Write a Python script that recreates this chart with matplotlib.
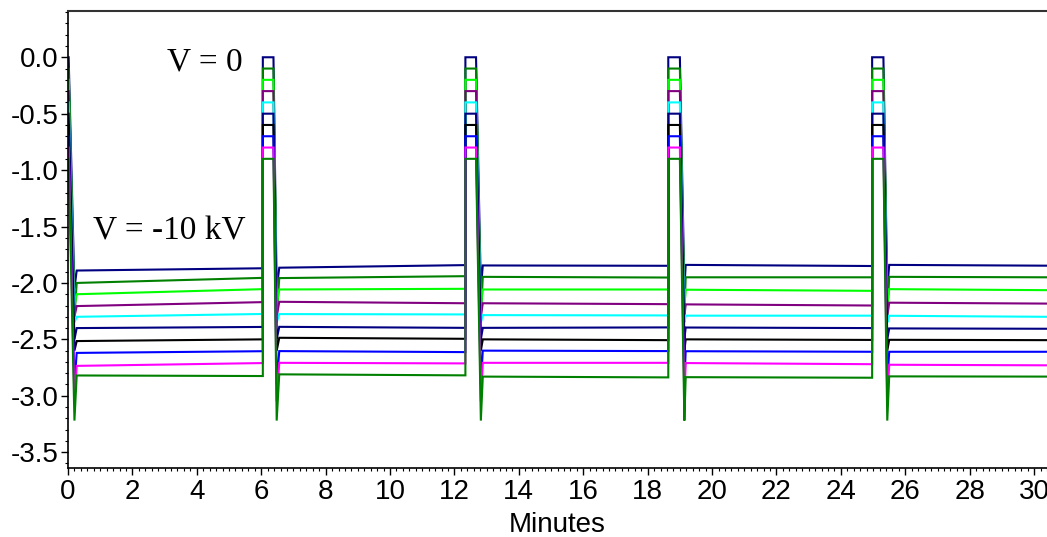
import matplotlib
matplotlib.use("Agg")
import matplotlib.pyplot as plt
from matplotlib.ticker import MultipleLocator

# ---- data ----
colors = ["#000080", "#008000", "#00FF00", "#800080", "#00FFFF",
          "#000080", "#000000", "#0000FF", "#FF00FF", "#008000"]
v0_levels = [0.0, -0.1, -0.2, -0.3, -0.4, -0.5, -0.6, -0.7, -0.8, -0.9]
spike_min = [-2.05, -2.3, -2.2, -2.3, -2.35, -2.5, -2.6, -2.9, -3.05, -3.22]

# plateau (V = -10 kV) levels at start / end of each of the 5 segments
seg_start = [
    [-1.89, -1.865, -1.845, -1.84, -1.84],
    [-2.00, -1.957, -1.946, -1.95, -1.946],
    [-2.10, -2.058, -2.058, -2.06, -2.055],
    [-2.205, -2.167, -2.18, -2.19, -2.175],
    [-2.30, -2.276, -2.285, -2.29, -2.291],
    [-2.40, -2.389, -2.398, -2.395, -2.403],
    [-2.515, -2.486, -2.50, -2.50, -2.504],
    [-2.62, -2.604, -2.60, -2.605, -2.61],
    [-2.735, -2.708, -2.708, -2.71, -2.725],
    [-2.82, -2.81, -2.83, -2.835, -2.828],
]
seg_end = [
    [-1.87, -1.842, -1.848, -1.85, -1.847],
    [-1.955, -1.94, -1.952, -1.95, -1.95],
    [-2.055, -2.052, -2.058, -2.07, -2.064],
    [-2.17, -2.18, -2.188, -2.20, -2.183],
    [-2.275, -2.279, -2.288, -2.29, -2.30],
    [-2.39, -2.398, -2.394, -2.40, -2.406],
    [-2.50, -2.495, -2.507, -2.505, -2.507],
    [-2.605, -2.613, -2.604, -2.61, -2.61],
    [-2.71, -2.713, -2.708, -2.72, -2.73],
    [-2.825, -2.819, -2.837, -2.84, -2.83],
]

# timing (minutes)
start_t, first_spike_t, first_recover_t = 0.02, 0.2, 0.27
pulse_on = [6.05, 12.34, 18.64, 24.97]
pulse_off = [6.38, 12.67, 19.00, 25.32]
spike_t = [6.48, 12.82, 19.14, 25.44]
recover_t = [6.56, 12.88, 19.18, 25.50]
end_t = 30.4

x_ticks = list(range(0, 31, 2))
y_ticks = [0.0, -0.5, -1.0, -1.5, -2.0, -2.5, -3.0, -3.5]

# ---- figure ----
fig = plt.figure(figsize=(10.47, 5.37), dpi=100)
ax = fig.add_axes([68 / 1047, 1 - 468 / 537, 1 - 68 / 1047, (468 - 11) / 537])

for i in range(len(colors)):
    xs = [start_t, first_spike_t, first_recover_t]
    ys = [v0_levels[i], spike_min[i], seg_start[i][0]]
    for k in range(len(pulse_on)):
        xs += [pulse_on[k], pulse_on[k], pulse_off[k], spike_t[k], recover_t[k]]
        ys += [seg_end[i][k], v0_levels[i], v0_levels[i], spike_min[i], seg_start[i][k + 1]]
    xs.append(end_t)
    ys.append(seg_end[i][-1])
    ax.plot(xs, ys, color=colors[i], lw=1.5, solid_joinstyle="miter")

ax.set_xlim(0, end_t)
ax.set_ylim(-3.64, 0.41)
ax.set_xticks(x_ticks)
ax.set_yticks(y_ticks)
ax.set_yticklabels([f"{v:.1f}" for v in y_ticks])
ax.xaxis.set_minor_locator(MultipleLocator(0.2))
ax.yaxis.set_minor_locator(MultipleLocator(0.1))

for lab in ax.get_xticklabels() + ax.get_yticklabels():
    lab.set_fontfamily("Liberation Sans")
    lab.set_fontsize(20)
ax.tick_params(axis="both", which="major", direction="out", length=5, width=1)
ax.tick_params(axis="y", which="major", pad=1.5)
ax.tick_params(axis="x", which="major", pad=3)
ax.tick_params(axis="both", which="minor", direction="out", length=2.5, width=0.8)
ax.tick_params(axis="x", top=False)

ax.spines["right"].set_visible(False)
for s in ["left", "bottom"]:
    ax.spines[s].set_linewidth(1.2)
ax.spines["top"].set_linewidth(1.5)
ax.spines["top"].set_color("#333333")

ax.set_xlabel("Minutes", fontfamily="Liberation Sans", fontsize=20, labelpad=5)

ax.text(3.07, -0.04, "V = 0", fontfamily="Liberation Serif", fontsize=24,
        ha="left", va="center")
ax.text(0.78, -1.545, "V = -10 kV", fontfamily="Liberation Serif", fontsize=24,
        ha="left", va="center")

fig.savefig("out.png", dpi=100)
